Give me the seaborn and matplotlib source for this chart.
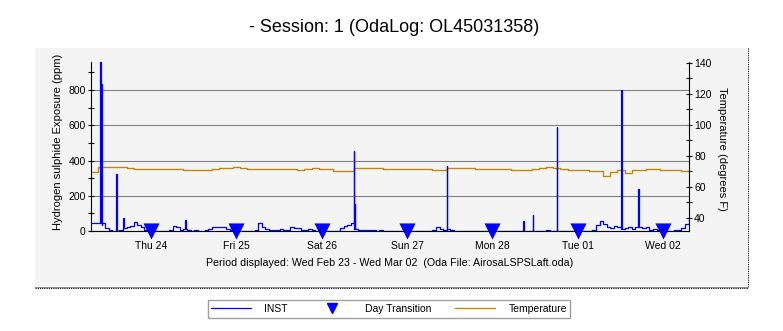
import numpy as np
import pandas as pd
import matplotlib
matplotlib.use("Agg")
import matplotlib.pyplot as plt
import seaborn as sns
from matplotlib.lines import Line2D
from matplotlib.patches import Rectangle
from matplotlib.ticker import MultipleLocator

# ---------------- data ----------------
title = "- Session: 1 (OdaLog: OL45031358)"
caption = "Period displayed: Wed Feb 23 - Wed Mar 02  (Oda File: AirosaLSPSLaft.oda)"
left_label = "Hydrogen sulphide Exposure (ppm)"
right_label = "Temperature (degrees F)"
start_time = "2011-02-23 07:10"
end_time = "2011-03-02 07:18"

day_labels = ["Thu 24", "Fri 25", "Sat 26", "Sun 27", "Mon 28", "Tue 01", "Wed 02"]
day_dates = ["2011-02-24", "2011-02-25", "2011-02-26", "2011-02-27",
             "2011-02-28", "2011-03-01", "2011-03-02"]

# INST baseline, one reading per hour from the start (ppm)
inst_base = [
    45, 45, 48, 35, 15, 3, 0, 2, 8, 15, 20, 30, 50, 35, 20, 8, 2,           # Wed 23
    0, 0, 0, 0, 0, 5, 30, 20, 5, 10, 5, 0, 3, 0, 0, 3, 10, 20, 25, 20, 25, 10, 3, 0,  # Thu 24
    0, 0, 0, 0, 2, 5, 45, 20, 12, 8, 5, 8, 10, 3, 5, 20, 15, 15, 8, 5, 10, 5, 2, 0,  # Fri 25
    0, 0, 0, 0, 2, 15, 30, 35, 45, 10, 5, 5, 5, 3, 5, 2, 3, 0, 0, 0, 0, 0, 0, 0,     # Sat 26
    0, 0, 0, 0, 0, 0, 0, 5, 20, 10, 8, 10, 5, 2, 0, 0, 0, 0, 0, 0, 0, 0, 0, 0,       # Sun 27
    0, 0, 0, 0, 0, 0, 0, 0, 0, 0, 0, 0, 0, 0, 0, 3, 0, 0, 10, 2, 0, 0, 0, 0,         # Mon 28
    0, 0, 0, 0, 5, 35, 55, 40, 25, 15, 30, 20, 10, 15, 25, 10, 20, 25, 15, 20, 8, 10, 3, 0,  # Tue 01
    0, 0, 0, 8, 5, 15, 40, 80,                                              # Wed 02
]
# short INST peaks (hours from start, ppm)
spike_hours = [2.6, 2.85, 7.1, 9.0, 26.4, 73.9, 74.1, 100.0, 121.6, 124.2, 130.9, 149.1, 153.9]
spike_ppm = [1000, 835, 325, 75, 65, 455, 155, 370, 55, 90, 590, 800, 240]

# Temperature, every two hours from the start (deg F)
temp_f = [
    69.9, 72.7, 72.7, 72.7, 72.7, 72.1, 71.4, 71.4, 71.4, 71.4, 71.4, 71.4,
    71.4, 70.8, 70.8, 70.8, 70.8, 71.4, 72.1, 72.4, 72.7, 72.4, 71.8, 71.4,
    71.4, 71.4, 71.4, 71.4, 71.4, 71.0, 71.8, 72.1, 71.4, 71.4, 70.6, 70.3,
    70.3, 72.1, 72.1, 72.4, 72.1, 71.8, 71.8, 71.8, 71.8, 71.8, 71.8, 71.4,
    70.8, 70.8, 72.1, 72.1, 72.1, 72.1, 71.8, 71.8, 71.8, 71.8, 71.8, 71.0,
    71.0, 70.8, 71.4, 72.4, 72.7, 72.4, 71.4, 71.2, 71.2, 70.8, 70.6, 70.6,
    67.3, 69.5, 71.0, 69.0, 70.8, 71.0, 71.4, 71.4, 71.2, 71.0, 70.8, 70.0,
    69.2,
]

# ---------------- build tables ----------------
t0 = pd.Timestamp(start_time)
pts = {}
for h, v in zip(spike_hours, spike_ppm):
    pts[h] = v
for h in spike_hours:
    pts.setdefault(round(h + 0.2, 3), inst_base[int(h)])
for i, v in enumerate(inst_base):
    pts.setdefault(float(i), v)
hrs = sorted(pts)
inst_df = pd.DataFrame({"time": [t0 + pd.Timedelta(hours=h) for h in hrs],
                        "ppm": [pts[h] for h in hrs]})
temp_df = pd.DataFrame({"time": [t0 + pd.Timedelta(hours=2 * i) for i in range(len(temp_f))],
                        "temp": temp_f})
day_df = pd.DataFrame({"time": pd.to_datetime(day_dates), "y": [2] * len(day_dates)})

# ---------------- style ----------------
sns.set_style("white")
plt.rcParams["font.family"] = ["Liberation Sans", "DejaVu Sans"]
plt.rcParams["font.size"] = 7.5
for k in ("text.color", "axes.labelcolor", "xtick.color", "ytick.color"):
    plt.rcParams[k] = "black"

BLUE = "#0000ff"
GOLD = "#bf8a0c"
PANEL = "#f4f4f4"

W, H = 783, 331
fig = plt.figure(figsize=(W / 100, H / 100), dpi=100)
fig.patch.set_facecolor("white")

# grey panel
fig.add_artist(Rectangle((35 / W, 1 - 286 / H), 712 / W, 238 / H,
                         transform=fig.transFigure, facecolor=PANEL,
                         edgecolor="none", zorder=0))
fig.add_artist(Line2D([35 / W, 747 / W], [1 - 286.5 / H] * 2, transform=fig.transFigure,
                      color="#909090", lw=0.8, zorder=1))
fig.add_artist(Line2D([35 / W, 748 / W], [1 - 287.5 / H] * 2, transform=fig.transFigure,
                      color="black", lw=0.8, linestyle=(0, (1, 1)), zorder=1))
fig.add_artist(Line2D([747.5 / W] * 2, [1 - 48 / H, 1 - 287.5 / H], transform=fig.transFigure,
                      color="black", lw=0.8, linestyle=(0, (1, 1)), zorder=1))

ax_l, ax_b = 91 / W, 1 - 231 / H
ax_w, ax_h = (689 - 91) / W, (231 - 62) / H
ax = fig.add_axes([ax_l, ax_b, ax_w, ax_h])
ax2 = ax.twinx()
ax.set_zorder(ax2.get_zorder() + 1)
ax.patch.set_visible(False)
ax2.patch.set_visible(False)

# temperature
sns.lineplot(data=temp_df, x="time", y="temp", ax=ax2, color=GOLD, lw=1.0,
             drawstyle="steps-post", estimator=None)
# INST
sns.lineplot(data=inst_df, x="time", y="ppm", ax=ax, color=BLUE, lw=0.9,
             drawstyle="steps-post", estimator=None, zorder=3)
# day transitions
sns.scatterplot(data=day_df, x="time", y="y", ax=ax, marker="v", s=135,
                color=BLUE, edgecolor=BLUE, linewidth=0, clip_on=False, zorder=5)

ax.set_xlim(pd.Timestamp(start_time), pd.Timestamp(end_time))
ax.set_ylim(0, 959)
ax2.set_ylim(31.6, 140.6)

ax.set_yticks([0, 200, 400, 600, 800])
ax.yaxis.set_minor_locator(MultipleLocator(100))
ax2.set_yticks([40, 60, 80, 100, 120, 140])
ax2.yaxis.set_minor_locator(MultipleLocator(10))
ax.set_xticks(pd.to_datetime(day_dates))
ax.set_xticklabels(day_labels)

for a in (ax, ax2):
    for s in a.spines.values():
        s.set_visible(False)
ax.spines["left"].set_visible(True)
ax.spines["bottom"].set_visible(True)
ax2.spines["right"].set_visible(True)
for s in (ax.spines["left"], ax.spines["bottom"], ax2.spines["right"]):
    s.set_color("black")
    s.set_linewidth(0.8)

ax.tick_params(axis="y", which="major", direction="inout", length=4.5, width=0.8,
               color="black", labelsize=7.5, pad=1.5, left=True)
ax.tick_params(axis="y", which="minor", direction="inout", length=4.5, width=0.8,
               color="black", left=True)
ax2.tick_params(axis="y", which="major", direction="inout", length=4.5, width=0.8,
                color="black", labelsize=7.5, pad=1.5, right=True)
ax2.tick_params(axis="y", which="minor", direction="inout", length=4.5, width=0.8,
                color="black", right=True)
ax.tick_params(axis="x", length=0, labelsize=7.5, pad=7.5)

ax.yaxis.grid(True, which="major", color="#808080", lw=0.8)
ax.xaxis.grid(False)
ax2.grid(False)
ax.set_axisbelow(True)

ax.set_xlabel("")
ax.set_ylabel(left_label, fontsize=8)
ax.yaxis.set_label_coords(-0.047, 0.53)
ax2.set_ylabel(right_label, fontsize=8, rotation=270, va="center")
ax2.yaxis.set_label_coords(1.055, 0.485)

fig.text(394 / W, 1 - 28 / H, title, ha="center", va="center", fontsize=13)
fig.text(390 / W, 1 - 263 / H, caption, ha="center", va="center", fontsize=7.65)

handles = [Line2D([], [], color=BLUE, lw=0.9),
           Line2D([], [], color=BLUE, marker="v", ms=7, lw=0),
           Line2D([], [], color=GOLD, lw=1.0)]
leg = fig.legend(handles, ["INST", "Day Transition", "Temperature"],
                 loc="center", bbox_to_anchor=(389 / W, 1 - 309 / H), ncol=3,
                 frameon=True, fancybox=False, edgecolor="#a0a0a0",
                 facecolor="white", framealpha=1, fontsize=7.5,
                 handlelength=3.8, handletextpad=1.3, columnspacing=2.3,
                 borderpad=0.35, borderaxespad=0)
leg.get_frame().set_linewidth(1.0)

fig.savefig("out.png", dpi=100)
